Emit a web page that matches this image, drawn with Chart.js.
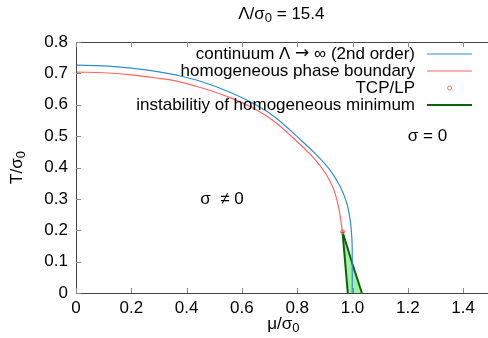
<!DOCTYPE html>
<html>
<head>
<meta charset="utf-8">
<script src="https://cdn.jsdelivr.net/npm/chart.js@4/dist/chart.umd.min.js"></script>
<style>
html,body{margin:0;padding:0;background:#fff;overflow:hidden;}
#wrap{width:500px;height:338px;position:relative;}
</style>
</head>
<body>
<div id="wrap"><canvas id="c"></canvas></div>
<script>
// ---- data ----
const blueMu = [0, 0.1, 0.2, 0.3, 0.36, 0.45, 0.557, 0.65, 0.72, 0.81, 0.87, 0.92, 0.955, 0.979, 0.992, 0.998, 0.999, 0.999];
const blueT  = [0.726, 0.724, 0.717, 0.705, 0.695, 0.675, 0.640, 0.600, 0.560, 0.490, 0.440, 0.390, 0.340, 0.287, 0.230, 0.170, 0.100, 0];
const redMu  = [0, 0.1, 0.2, 0.3, 0.36, 0.45, 0.55, 0.65, 0.72, 0.81, 0.86, 0.9, 0.93, 0.949, 0.964];
const redT   = [0.704, 0.702, 0.695, 0.684, 0.676, 0.655, 0.625, 0.585, 0.545, 0.474, 0.430, 0.385, 0.335, 0.276, 0.195];
const tcpMu  = [0.964];
const tcpT   = [0.195];
// instability lines from the TCP down to T = 0 (left branch continues along T = 0)
const instLeftMu  = [0.964, 0.983, 1.034];
const instLeftT   = [0.195, 0, 0];
const instRightMu = [0.964, 0.999, 1.034];
const instRightT  = [0.195, 0.095, 0];
const xTicks = [0, 0.2, 0.4, 0.6, 0.8, 1, 1.2, 1.4];
const yTicks = [0, 0.1, 0.2, 0.3, 0.4, 0.5, 0.6, 0.7, 0.8];
const labels = ["continuum \u039B \u2192 \u221E (2nd order)", "homogeneous phase boundary", "TCP/LP", "instabilitiy of homogeneous minimum"];
const regionText = ["\u03C3  \u2260 0", "\u03C3 = 0"];
const regionMu = [0.528, 1.271];
const regionT = [0.30, 0.50];
// rich text pieces: [text, subscript?]
const titleParts = [["\u039B/\u03C3", false], ["0", true], [" = 15.4", false]];
const xTitleParts = [["\u03BC/\u03C3", false], ["0", true]];
const yTitleParts = [["T/\u03C3", false], ["0", true]];

const pts = (xs, ys) => xs.map((x, i) => ({x, y: ys[i]}));
const FONT = "'Liberation Sans', Arial, Helvetica, sans-serif";
const BLUE = '#2d8fcf', RED = '#ff6464', GREEN = '#0a640a', LGREEN = 'rgba(140,235,140,0.8)';
const MAIN = 17, SUB = 13;

// split a string so that arrows use DejaVu Sans (wider glyph like the reference)
function pieces(parts) {
  const out = [];
  parts.forEach(([t, sub]) => {
    t.split(/(\u2192)/).forEach(s => {
      if (!s) return;
      const fam = s === '\u2192' ? "'DejaVu Sans', sans-serif" : FONT;
      out.push({t: s, font: (sub ? SUB : MAIN) + 'px ' + fam, dy: sub ? 4 : 0});
    });
  });
  return out;
}
function richWidth(ctx, ps) { return ps.reduce((w, p) => { ctx.font = p.font; return w + ctx.measureText(p.t).width; }, 0); }
function drawRich(ctx, parts, x, y, align, rot) {
  const ps = pieces(parts);
  ctx.save();
  ctx.translate(x, y);
  if (rot) ctx.rotate(rot);
  const w = richWidth(ctx, ps);
  let cx = align === 'right' ? -w : align === 'center' ? -w / 2 : 0;
  ctx.textAlign = 'left'; ctx.textBaseline = 'middle'; ctx.fillStyle = '#000';
  ps.forEach(p => { ctx.font = p.font; ctx.fillText(p.t, cx, p.dy); cx += ctx.measureText(p.t).width; });
  ctx.restore();
}

const frame = {
  id: 'frame',
  afterDatasetsDraw(chart) {
    const {ctx, chartArea: a, scales: {x, y}} = chart;
    ctx.save();
    ctx.strokeStyle = '#444'; ctx.lineWidth = 1;
    ctx.strokeRect(a.left + 0.5, a.top + 0.5, a.right - a.left, a.bottom - a.top);
    ctx.strokeStyle = '#888';
    ctx.beginPath();
    xTicks.forEach(v => {
      const px = Math.round(x.getPixelForValue(v)) + 0.5;
      ctx.moveTo(px, a.bottom); ctx.lineTo(px, a.bottom - 5);
      ctx.moveTo(px, a.top); ctx.lineTo(px, a.top + 5);
    });
    yTicks.forEach(v => {
      const py = Math.round(y.getPixelForValue(v)) + 0.5;
      ctx.moveTo(a.left, py); ctx.lineTo(a.left + 5, py);
    });
    ctx.stroke();
    // title and axis titles
    drawRich(ctx, titleParts, (a.left + a.right) / 2 - 2, 14, 'center');
    drawRich(ctx, xTitleParts, (a.left + a.right) / 2, 324, 'center');
    drawRich(ctx, yTitleParts, 17, (a.top + a.bottom) / 2, 'center', -Math.PI / 2);
    // region labels
    regionText.forEach((t, i) => drawRich(ctx, [[t, false]], x.getPixelForValue(regionMu[i]), y.getPixelForValue(regionT[i]), 'center'));
    // legend (gnuplot style)
    const textRight = 415, x0 = 427, x1 = 472, rowTop = 54, rowH = 17;
    chart.data.datasets.filter(ds => ds.label).forEach((ds, i) => {
      const cy = rowTop + i * rowH;
      drawRich(ctx, [[ds.label, false]], textRight, cy, 'right');
      if (ds.showLine === false) {
        ctx.beginPath(); ctx.arc((x0 + x1) / 2, cy, 2, 0, 2 * Math.PI);
        ctx.strokeStyle = ds.borderColor; ctx.lineWidth = 1; ctx.stroke();
      } else {
        ctx.beginPath(); ctx.moveTo(x0, cy); ctx.lineTo(x1, cy);
        ctx.strokeStyle = ds.legendColor || ds.borderColor; ctx.lineWidth = ds.borderWidth; ctx.stroke();
      }
    });
    ctx.restore();
  }
};

new Chart(document.getElementById('c'), {
  type: 'scatter',
  data: {
    datasets: [
      {label: labels[0], data: pts(blueMu, blueT), showLine: true, borderColor: BLUE, borderWidth: 1.2, pointRadius: 0, tension: 0.35, fill: false, order: 1},
      {label: labels[1], data: pts(redMu, redT), showLine: true, borderColor: RED, borderWidth: 1.2, pointRadius: 0, tension: 0.35, fill: false, order: 2},
      {label: labels[2], data: pts(tcpMu, tcpT), showLine: false, borderColor: RED, backgroundColor: 'rgba(255,100,100,0.3)', pointRadius: 2, borderWidth: 1, order: 0},
      {type: 'line', label: labels[3], legendColor: GREEN, data: pts(instLeftMu, instLeftT), showLine: true, borderColor: GREEN, borderWidth: 2, pointRadius: 0, fill: false, order: 3,
        segment: {borderColor: c => (c.p0DataIndex === 1 ? 'rgba(0,0,0,0)' : GREEN)}},
      {type: 'line', label: '', data: pts(instRightMu, instRightT), showLine: true, borderColor: GREEN, backgroundColor: LGREEN, borderWidth: 2, pointRadius: 0, fill: '-1', order: 4}
    ]
  },
  options: {
    responsive: true, maintainAspectRatio: false, animation: false,
    layout: {padding: {left: 0, right: 9.25, top: 42, bottom: 0}},
    plugins: {
      legend: {display: false}, tooltip: {enabled: false}, title: {display: false}
    },
    scales: {
      x: {
        type: 'linear', min: 0, max: 1.5,
        afterFit: s => { s.height = 45; },
        grid: {display: false, drawTicks: false},
        border: {display: false},
        ticks: {stepSize: 0.2, includeBounds: false, padding: 5, color: '#000', font: {family: FONT, size: 17}, maxRotation: 0},
        title: {display: false}
      },
      y: {
        type: 'linear', min: 0, max: 0.8,
        afterFit: s => { s.width = 76; },
        grid: {display: false, drawTicks: false},
        border: {display: false},
        ticks: {stepSize: 0.1, padding: 8, color: '#000', font: {family: FONT, size: 17}},
        title: {display: false}
      }
    }
  },
  plugins: [frame]
});
</script>
</body>
</html>
